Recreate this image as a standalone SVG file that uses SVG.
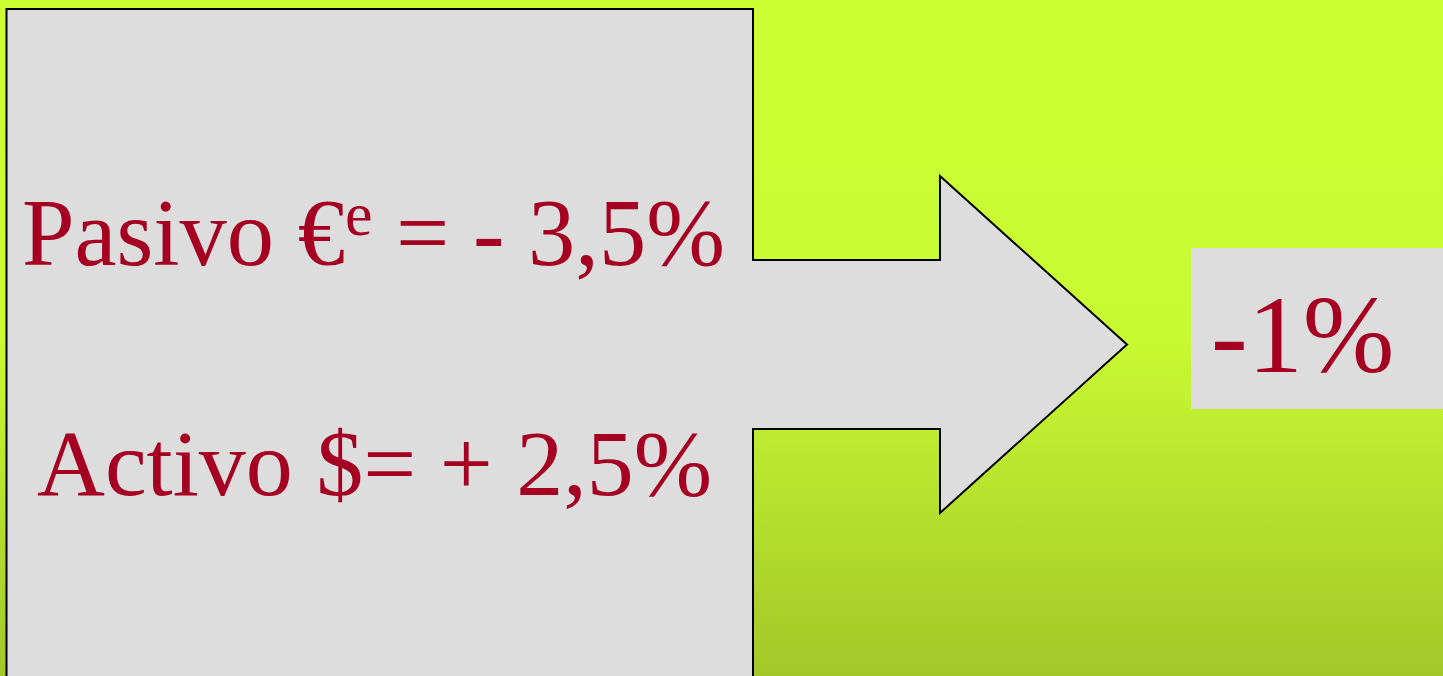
<svg xmlns="http://www.w3.org/2000/svg" width="1443" height="676" viewBox="0 0 1443 676">
<defs>
<linearGradient id="bg" x1="0" y1="0" x2="0" y2="1">
<stop offset="0" stop-color="#ccff33"/>
<stop offset="0.5" stop-color="#c8fa32"/>
<stop offset="1" stop-color="#a3c729"/>
</linearGradient>
<style>
.t{font-family:"Liberation Serif","Times New Roman",serif;fill:#a50021}
.shape{fill:#dddddd;stroke:#000000}
</style>
</defs>
<rect x="0" y="0" width="1443" height="676" fill="url(#bg)"/>
<g id="callout">
<path class="shape" stroke-width="2" d="M6.5,9 H753 V260 H940 V176 L1127,344.5 L940,513 V429 H753 V690 H6.5 Z"/>
<text class="t" x="22" y="265" font-size="94.5">Pasivo €<tspan font-size="62" dy="-30">e</tspan><tspan dy="30"> = - 3,5%</tspan></text>
<text class="t" x="37" y="495" font-size="94">Activo $= + 2,5%</text>
</g>
<g id="result">
<rect x="1191" y="248" width="252" height="161" fill="#dddddd"/>
<text class="t" x="1211" y="372" font-size="110">-1%</text>
</g>
<g id="connectors"/>
</svg>
